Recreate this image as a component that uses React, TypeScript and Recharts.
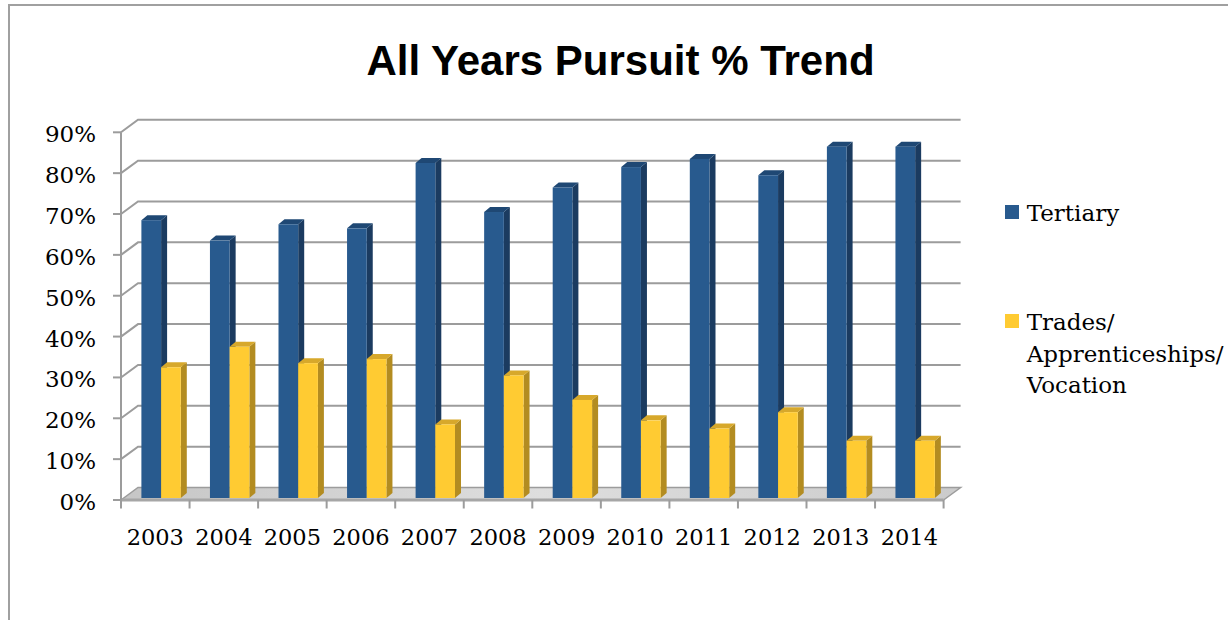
import React from 'react';
import { BarChart, Bar, XAxis, YAxis, CartesianGrid, Legend } from 'recharts';

// ---- data ----
const years = ['2003', '2004', '2005', '2006', '2007', '2008', '2009', '2010', '2011', '2012', '2013', '2014'];
const tertiary = [68, 63, 67, 66, 82, 70, 76, 81, 83, 79, 86, 86];
const trades = [32, 37, 33, 34, 18, 30, 24, 19, 17, 21, 14, 14];
const yTicks = [0, 10, 20, 30, 40, 50, 60, 70, 80, 90];
const seriesNames = ['Tertiary', 'Trades/ Apprenticeships/ Vocation'];
const title = 'All Years Pursuit % Trend';

const data = years.map((year, i) => ({ year, tertiary: tertiary[i], trades: trades[i] }));

// ---- style ----
const SERIF = '"DejaVu Serif", serif';
const GRID = '#9c9c9c';
const BLUE = { front: '#285A8E', top: '#1F4874', side: '#1B3B60' };
const YELLOW = { front: '#FFCB32', top: '#D7A82B', side: '#B38C21' };
const WALL_DX = 17;
const WALL_DY = 12.5;
const BAR_DX = 6;
const BAR_DY = 5;
const BAR_SHIFT_X = 5.4;
const BAR_LIFT = 2;

function make3DBar(c: { front: string; top: string; side: string }) {
  return (props: any) => {
    const { x, y, width, height } = props;
    if (x == null || y == null || !width) return <g />;
    const h = Math.max(height || 0, 0);
    const X = x + BAR_SHIFT_X;
    const Y = y - BAR_LIFT;
    const B = Y + h;
    const R = X + width;
    return (
      <g>
        <polygon points={`${R},${Y} ${R + BAR_DX},${Y - BAR_DY} ${R + BAR_DX},${B - BAR_DY} ${R},${B}`} fill={c.side} />
        <polygon points={`${X},${Y} ${R},${Y} ${R + BAR_DX},${Y - BAR_DY} ${X + BAR_DX},${Y - BAR_DY}`} fill={c.top} />
        <rect x={X} y={Y} width={width} height={h} fill={c.front} />
      </g>
    );
  };
}

const blueBar = make3DBar(BLUE);
const yellowBar = make3DBar(YELLOW);

const gridLine = (props: any) => {
  const { x1, x2, y1, index } = props;
  let bottom: number;
  if (props.y != null && props.height != null) bottom = props.y + props.height;
  else if (props.horizontalPoints) bottom = Math.max(...props.horizontalPoints);
  else bottom = y1;
  const k = `hl-${index}-${y1}`;
  if (Math.abs(y1 - bottom) < 0.5) {
    const n = years.length;
    const w = x2 - x1;
    const ticks = [];
    for (let i = 0; i <= n; i++) {
      const tx = x1 + (i * w) / n;
      ticks.push(<line key={i} x1={tx} y1={bottom} x2={tx} y2={bottom + 8.5} stroke={GRID} strokeWidth={2} />);
    }
    return (
      <g key={k}>
        <defs>
          <linearGradient id="floorGrad" x1="0" y1="0" x2="1" y2="0">
            <stop offset="0%" stopColor="#c6c6c6" />
            <stop offset="50%" stopColor="#dedede" />
            <stop offset="100%" stopColor="#cbcbcb" />
          </linearGradient>
        </defs>
        <polygon
          points={`${x1},${bottom} ${x2},${bottom} ${x2 + WALL_DX},${bottom - WALL_DY} ${x1 + WALL_DX},${bottom - WALL_DY}`}
          fill="url(#floorGrad)"
        />
        <polyline
          points={`${x1},${bottom} ${x1 + WALL_DX},${bottom - WALL_DY} ${x2 + WALL_DX},${bottom - WALL_DY} ${x2},${bottom}`}
          fill="none"
          stroke={GRID}
          strokeWidth={1.5}
        />
        <line x1={x1} y1={bottom} x2={x2} y2={bottom} stroke="#a6a6a6" strokeWidth={3} />
        {ticks}
      </g>
    );
  }
  return (
    <polyline
      key={k}
      points={`${x1},${y1} ${x1 + WALL_DX},${y1 - WALL_DY} ${x2 + WALL_DX},${y1 - WALL_DY}`}
      fill="none"
      stroke={GRID}
      strokeWidth={2}
    />
  );
};

const XTick = (p: any) => (
  <text x={p.x} y={p.y} textAnchor="middle" fontFamily={SERIF} fontSize={22.5} fill="#000">
    {p.payload.value}
  </text>
);

const YTick = (p: any) => (
  <text x={p.x} y={p.y + 10} textAnchor="end" fontFamily={SERIF} fontSize={23} fill="#000">
    {`${p.payload.value}%`}
  </text>
);

const renderLegend = (props: any) => {
  const payload = props.payload || [];
  return (
    <div style={{ fontFamily: SERIF, fontSize: 23, lineHeight: '31.5px', color: '#000', textAlign: 'left' }}>
      {payload.map((entry: any, i: number) => (
        <div key={i} style={{ display: 'flex', alignItems: 'flex-start', marginBottom: i === 0 ? 77.5 : 0 }}>
          <div style={{ width: 14, height: 14, background: entry.color, marginTop: 6.5, marginRight: 7.7, flex: 'none' }} />
          <div style={{ width: 200 }}>{entry.value}</div>
        </div>
      ))}
    </div>
  );
};

export default function App() {
  return (
    <div style={{ position: 'absolute', left: 0, top: 0, width: 1228, height: 620, overflow: 'hidden', background: '#fff' }}>
      <div
        style={{
          position: 'absolute',
          left: 8,
          top: 4,
          width: 1400,
          height: 900,
          border: '2px solid #a0a0a0',
          boxSizing: 'border-box',
        }}
      />
      <svg width={1228} height={100} style={{ position: 'absolute', left: 0, top: 0 }}>
        <text
          x={620.5}
          y={75}
          textAnchor="middle"
          fontFamily='"Liberation Sans", Arial, sans-serif'
          fontWeight="bold"
          fontSize={42}
          fill="#000"
        >
          {title}
        </text>
      </svg>
      <div style={{ position: 'absolute', left: 0, top: 0 }}>
        <BarChart
          width={1228}
          height={620}
          data={data}
          margin={{ top: 132.3, right: 284.4, bottom: 119, left: 120 }}
          barGap={0}
        >
          <CartesianGrid vertical={false} horizontal={gridLine} />
          <XAxis
            dataKey="year"
            height={1}
            axisLine={false}
            tickLine={false}
            tickSize={0}
            tickMargin={45}
            interval={0}
            tick={XTick}
          />
          <YAxis
            width={1}
            domain={[0, 90]}
            ticks={yTicks}
            interval={0}
            axisLine={{ stroke: GRID, strokeWidth: 2 }}
            tickLine={{ stroke: GRID, strokeWidth: 2 }}
            tickSize={8}
            tickMargin={17}
            tick={YTick}
          />
          <Legend
            layout="horizontal"
            verticalAlign="middle"
            align="center"
            content={renderLegend}
            wrapperStyle={{ left: 1005, top: 198.3, width: 223 }}
          />
          <Bar dataKey="tertiary" name={seriesNames[0]} fill={BLUE.front} barSize={19.7} shape={blueBar} isAnimationActive={false} />
          <Bar dataKey="trades" name={seriesNames[1]} fill={YELLOW.front} barSize={19.7} shape={yellowBar} isAnimationActive={false} />
        </BarChart>
      </div>
    </div>
  );
}
